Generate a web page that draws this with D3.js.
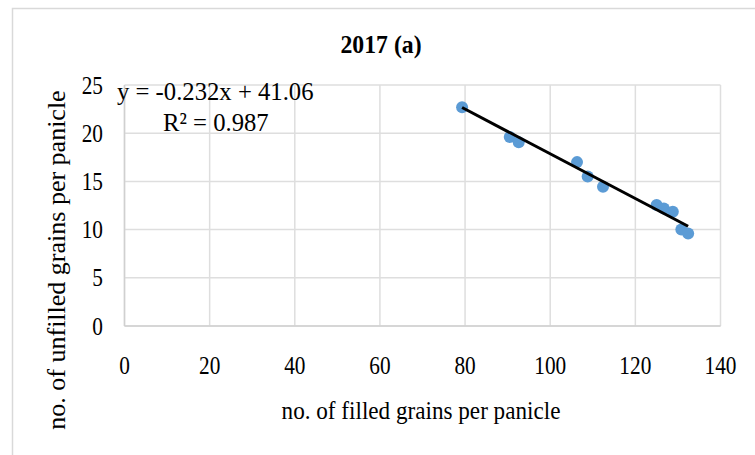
<!DOCTYPE html>
<html><head><meta charset="utf-8">
<script src="https://cdn.jsdelivr.net/npm/d3@7"></script>
<style>body{margin:0;background:#fff}svg{display:block}text{font-family:"Liberation Serif","Times New Roman",serif;fill:#000}</style>
</head><body><svg id="c" width="755" height="455"></svg>
<script>
const filled   = [79.3, 90.5, 92.6, 106.3, 108.8, 112.4, 125.0, 126.7, 128.8, 130.8, 132.4];
const unfilled = [22.7, 19.6, 19.05, 17.0, 15.5, 14.45, 12.55, 12.2, 11.85, 10.0, 9.6];
const xTicks = [0, 20, 40, 60, 80, 100, 120, 140];
const yTicks = [0, 5, 10, 15, 20, 25];
const slope = -0.232, intercept = 41.06;
const title = "2017 (a)";
const eqText = "y = -0.232x + 41.06";
const r2Text = "R² = 0.987";
const xTitle = "no. of filled grains per panicle";
const yTitle = "no. of unfilled grains per panicle";

const svg = d3.select("#c");
const x = d3.scaleLinear().domain([0, 140]).range([124.5, 720.5]);
const y = d3.scaleLinear().domain([0, 25]).range([326, 85]);

// helper: text drawn at (tx,ty) with horizontal squeeze sx
function stext(g, tx, ty, sx, size, anchor, str, bold) {
  return g.append("text")
    .attr("transform", `translate(${tx},${ty}) scale(${sx},1)`)
    .attr("text-anchor", anchor).attr("font-size", size)
    .attr("font-weight", bold ? "bold" : "normal").text(str);
}

// outer border
svg.append("path").attr("d", "M12.5,455 V8.5 H755").attr("fill", "none").attr("stroke", "#d9d9d9").attr("stroke-width", 1.5);

// grid
svg.append("g").selectAll("line").data(xTicks).join("line")
  .attr("x1", d => x(d)).attr("x2", d => x(d)).attr("y1", y(0)).attr("y2", y(25))
  .attr("stroke", "#dedede").attr("stroke-width", 1.5);
svg.append("g").selectAll("line").data(yTicks).join("line")
  .attr("x1", x(0)).attr("x2", x(140)).attr("y1", d => y(d)).attr("y2", d => y(d))
  .attr("stroke", "#dedede").attr("stroke-width", 1.5);
svg.append("line").attr("x1", x(0)).attr("x2", x(0)).attr("y1", y(0)).attr("y2", y(25)).attr("stroke", "#d0d0d0").attr("stroke-width", 1.5);
svg.append("line").attr("x1", x(0)).attr("x2", x(140)).attr("y1", y(0)).attr("y2", y(0)).attr("stroke", "#d0d0d0").attr("stroke-width", 1.5);

// tick labels
const gy = svg.append("g");
yTicks.forEach(d => stext(gy, 103, y(d) + 8.5, 0.82, 26, "end", String(d)));
const gx = svg.append("g");
xTicks.forEach(d => stext(gx, x(d), 374, 0.82, 26, "middle", String(d)));

// points
svg.append("g").selectAll("circle").data(filled).join("circle")
  .attr("cx", d => x(d)).attr("cy", (d, i) => y(unfilled[i])).attr("r", 6)
  .attr("fill", "#5b9bd5");

// trendline
const x0 = d3.min(filled), x1 = d3.max(filled);
svg.append("line").attr("x1", x(x0)).attr("y1", y(slope * x0 + intercept))
  .attr("x2", x(x1)).attr("y2", y(slope * x1 + intercept))
  .attr("stroke", "#000").attr("stroke-width", 3);

// title
stext(svg, 381, 53, 0.95, 25, "middle", title, true);

// equation
stext(svg, 117, 100, 0.95, 26, "start", eqText);
stext(svg, 163, 131, 0.95, 26, "start", r2Text);

// axis titles
stext(svg, 421, 419, 0.89, 26, "middle", xTitle);
svg.append("text").attr("transform", "translate(65,260) rotate(-90)").attr("text-anchor", "middle")
  .attr("font-size", 26).text(yTitle);
</script></body></html>
